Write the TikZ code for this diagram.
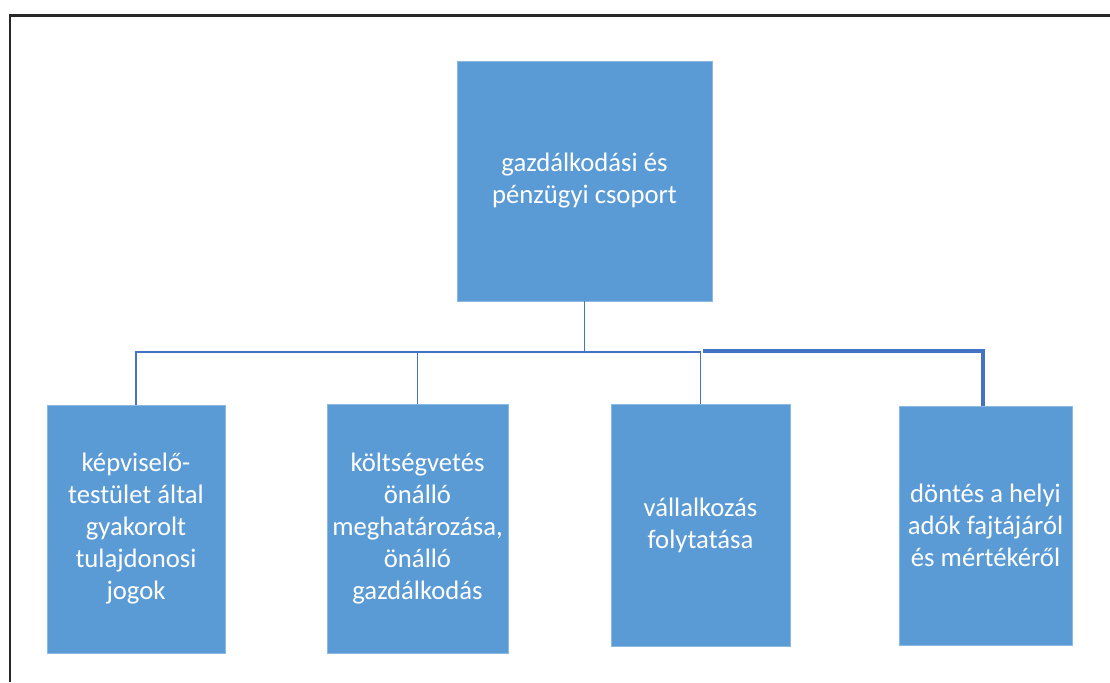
\documentclass[tikz,border=0pt]{standalone}
\usepackage{fontspec}
\setmainfont{Carlito}
\usepackage{xcolor}
\usetikzlibrary{calc}
\definecolor{boxblue}{RGB}{91,155,213}
\definecolor{linkblue}{RGB}{68,114,196}
\definecolor{framegray}{RGB}{40,40,40}
\tikzset{
  grpnode/.style = {align=center, inner sep=0pt, text centered,
    fill=boxblue, draw=boxblue!70!white, line width=0.4pt, text=white,
    font=\fontsize{20}{24}\selectfont},% doboz
  grp_top/.style = {grpnode, minimum width=191.25pt, minimum height=180pt},
  grp_sub/.style = {grpnode, minimum width=133.5pt, minimum height=186pt},
  link/.style = {draw=linkblue, line width=1.1pt},
  link_b/.style = {draw=linkblue, line width=2.3pt}
}
\begin{document}
\begin{tikzpicture}[x=0.75pt, y=-0.75pt]
\useasboundingbox (0,0) rectangle (1110,682);
% keret
\draw[framegray, line width=2pt] (1110,15.5) -- (10,15.5) -- (10,682);

\node[grp_top] (g1) at (584.5,181) {gazdálkodási és\\pénzügyi csoport};
\node[grp_sub] (g2) at (136,529) {képviselő-\\testület által\\gyakorolt\\tulajdonosi\\jogok};
\node[grp_sub, minimum width=135.75pt, minimum height=186.75pt] (g3) at (417.5,528.5)
  {költségvetés\\önálló\\meghatározása,\\önálló\\gazdálkodás};
\node[grp_sub, minimum width=134.25pt, minimum height=181.5pt] (g4) at (700.5,525)
  {vállalkozás\\folytatása};
\node[grp_sub, minimum width=129.75pt, minimum height=179.25pt] (g5) at (985.5,525.5)
  {döntés a helyi\\adók fajtájáról\\és mértékéről};

\coordinate (bus) at (0,352);
\coordinate (bus2) at (703,351);
\draw[link] (g1.south) -- (g1.south |- bus);
\draw[link] (g2.north) -- (g2.north |- bus) -- (g4.north |- bus) -- (g4.north);
\draw[link] (g3.north |- bus) -- (g3.north);
\draw[link_b] (bus2) -- (983,351) -- (983,406);
\end{tikzpicture}
\end{document}
